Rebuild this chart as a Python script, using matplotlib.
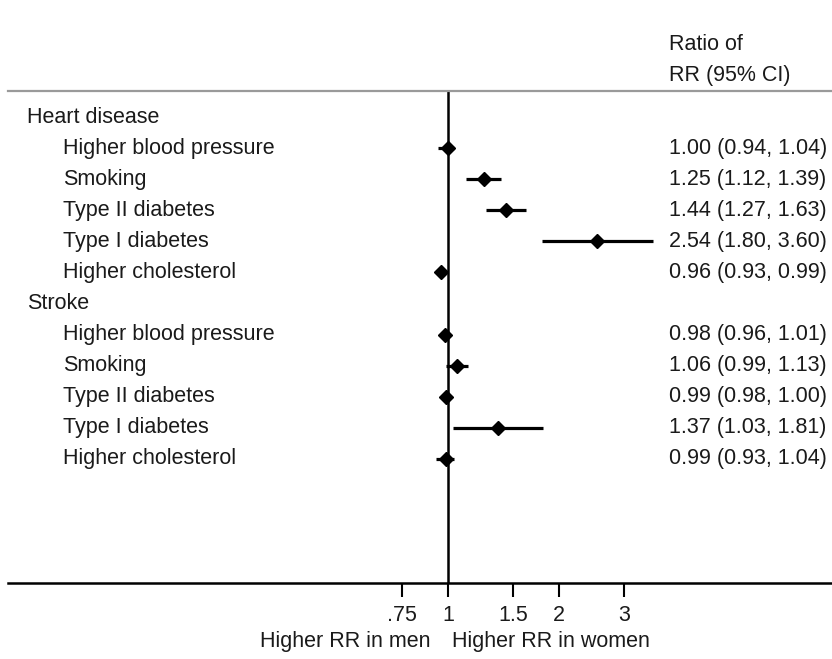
import numpy as np
import matplotlib
matplotlib.use("Agg")
import matplotlib.pyplot as plt
import matplotlib.transforms as mtrans

plt.rcParams['font.family'] = ['Liberation Sans', 'DejaVu Sans']

# data
groups = ["Heart disease", "Stroke"]
factors = ["Higher blood pressure", "Smoking", "Type II diabetes",
           "Type I diabetes", "Higher cholesterol"]
heart_rr = [1.00, 1.25, 1.44, 2.54, 0.96]
heart_lo = [0.94, 1.12, 1.27, 1.80, 0.93]
heart_hi = [1.04, 1.39, 1.63, 3.60, 0.99]
stroke_rr = [0.98, 1.06, 0.99, 1.37, 0.99]
stroke_lo = [0.96, 0.99, 0.98, 1.03, 0.93]
stroke_hi = [1.01, 1.13, 1.00, 1.81, 1.04]
xticks = [0.75, 1, 1.5, 2, 3]
xticklabels = [".75", "1", "1.5", "2", "3"]

W, H = 832, 659
fig = plt.figure(figsize=(W / 100, H / 100), dpi=100)

# plot region in pixels
left, right, top, bottom = 8, 832, 91, 583
ax = fig.add_axes([left / W, 1 - bottom / H, (right - left) / W, (bottom - top) / H])

# log x, 1 at px 448, 160 px per ln unit
px1, ppl = 448, 160.0
ax.set_xscale('log')
ax.set_xlim(np.exp((left - px1) / ppl), np.exp((right - px1) / ppl))
ax.set_ylim(15, -0.84)

tc = '#1a1a1a'
fs = 15.5

rows = []
y = 0
for g, rr, lo, hi in [(groups[0], heart_rr, heart_lo, heart_hi),
                      (groups[1], stroke_rr, stroke_lo, stroke_hi)]:
    rows.append((y, g, None, None, None))
    y += 1
    for f, r, l, h in zip(factors, rr, lo, hi):
        rows.append((y, f, r, l, h))
        y += 1

trans = mtrans.blended_transform_factory(fig.transFigure, ax.transData)
for yy, lab, r, l, h in rows:
    if r is None:
        fig.text(27 / W, yy, lab, transform=trans, fontsize=fs, color=tc,
                 va='center', ha='left')
        continue
    fig.text(63 / W, yy, lab, transform=trans, fontsize=fs, color=tc,
             va='center', ha='left')
    ax.plot([l, h], [yy, yy], color='black', lw=2.3, solid_capstyle='butt', zorder=3)
    ax.plot([r], [yy], marker='D', ms=7, color='black', zorder=4)
    fig.text(669 / W, yy, "%.2f (%.2f, %.2f)" % (r, l, h), transform=trans,
             fontsize=fs, color=tc, va='center', ha='left')

ax.axvline(1, color='black', lw=1.8, zorder=2)

# header
fig.text(669 / W, 1 - 45 / H, "Ratio of", fontsize=fs, color=tc, va='center')
fig.text(669 / W, 1 - 76 / H, "RR (95% CI)", fontsize=fs, color=tc, va='center')

# axis styling
for s in ['left', 'right']:
    ax.spines[s].set_visible(False)
ax.spines['top'].set_color('#9a9a9a')
ax.spines['top'].set_linewidth(1.6)
ax.spines['bottom'].set_color('black')
ax.spines['bottom'].set_linewidth(1.8)
ax.set_yticks([])
ax.set_xticks(xticks)
ax.set_xticklabels(xticklabels)
ax.xaxis.set_minor_locator(matplotlib.ticker.NullLocator())
ax.tick_params(axis='x', direction='out', length=10, width=1.5, pad=6,
               labelsize=fs, labelcolor=tc)

fig.text(430 / W, 1 - 641 / H, "Higher RR in men", fontsize=fs, color=tc,
         va='center', ha='right')
fig.text(452 / W, 1 - 641 / H, "Higher RR in women", fontsize=fs, color=tc,
         va='center', ha='left')

fig.savefig('out.png', dpi=100)
